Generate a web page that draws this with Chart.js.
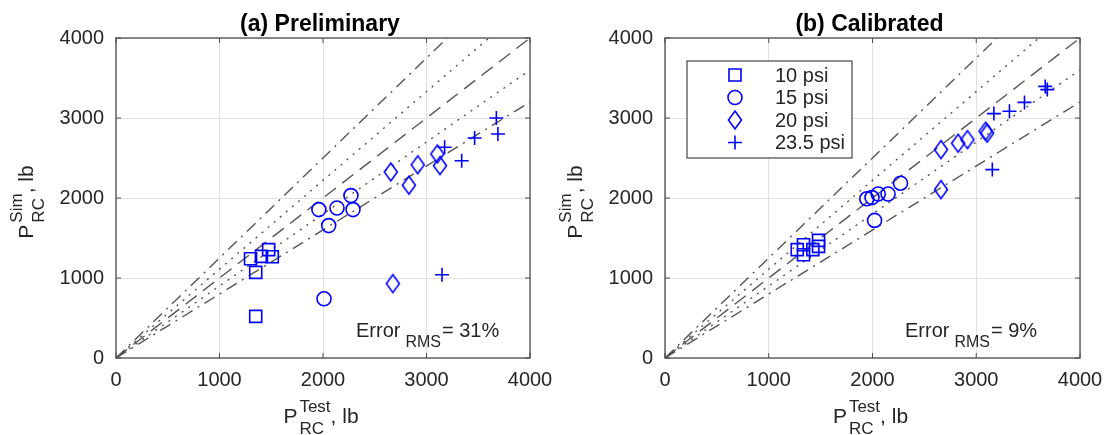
<!DOCTYPE html>
<html>
<head>
<meta charset="utf-8">
<script src="https://cdn.jsdelivr.net/npm/chart.js@4.4.1/dist/chart.umd.min.js"></script>
<style>
  html, body { margin: 0; padding: 0; background: #fff; }
  .wrap { position: relative; width: 1108px; height: 435px; }
  .panel { position: absolute; top: 0; width: 554px; height: 435px; }
</style>
</head>
<body>
<div class="wrap">
  <div class="panel" style="left:0"><canvas id="prelim" width="554" height="435"></canvas></div>
  <div class="panel" style="left:554px"><canvas id="calib" width="554" height="435"></canvas></div>
</div>
<script>
// groups and axis ticks
const groups = ['10 psi', '15 psi', '20 psi', '23.5 psi'];
const axisTicks = [0, 1000, 2000, 3000, 4000];
// sim/test ratio guide lines
const ratioLines = [1.25, 1.11, 1, 0.9, 0.8];

// (a) Preliminary: test load (x) vs simulated load (y), lb
const prelimTest10 = [1300, 1405, 1475, 1510, 1350, 1350];
const prelimSim10  = [1240, 1270, 1355, 1265, 1070, 520];
const prelimTest15 = [1960, 2135, 2270, 2290, 2055, 2010];
const prelimSim15  = [1855, 1875, 2030, 1855, 1655, 740];
const prelimTest20 = [2655, 2915, 2830, 3105, 3130, 2675];
const prelimSim20  = [2325, 2415, 2160, 2550, 2405, 930];
const prelimTest235 = [3675, 3690, 3465, 3340, 3175, 3150];
const prelimSim235  = [3000, 2800, 2750, 2465, 2635, 1040];

// (b) Calibrated
const calibTest10 = [1275, 1335, 1335, 1425, 1480, 1480];
const calibSim10  = [1355, 1415, 1290, 1355, 1470, 1395];
const calibTest15 = [1945, 2055, 2150, 2270, 2020, 1995];
const calibSim15  = [1990, 2050, 2050, 2185, 1720, 2005];
const calibTest20 = [2660, 2825, 2915, 3090, 3105, 2660];
const calibSim20  = [2605, 2685, 2730, 2835, 2810, 2105];
const calibTest235 = [3665, 3685, 3465, 3320, 3170, 3155];
const calibSim235  = [3395, 3355, 3195, 3085, 3055, 2355];

const BLUE = '#0000ff';
const TXT = '#262626';
const FONT = 'Liberation Sans, Arial, Helvetica, sans-serif';

// tall diamond like matlab's marker
function diamondImg() {
  const c = document.createElement('canvas');
  c.width = 18; c.height = 22;
  const g = c.getContext('2d');
  g.strokeStyle = BLUE; g.lineWidth = 1.6;
  g.beginPath();
  g.moveTo(9, 2); g.lineTo(15.5, 11); g.lineTo(9, 20); g.lineTo(2.5, 11); g.closePath();
  g.stroke();
  return c;
}
const diamond = diamondImg();
const markerStyles = ['rect', 'circle', diamond, 'cross'];
const markerRadius = [8.5, 7, 8, 7];

function pts(xs, ys) { return xs.map((v, i) => ({ x: v, y: ys[i] })); }

function refLine(r) {
  let dash = [14, 8];
  if (r === 1.11 || r === 0.9) dash = [2, 6];
  if (r === 1.25 || r === 0.8) dash = [12, 6, 2, 6];
  return {
    type: 'line', data: [{ x: 0, y: 0 }, { x: 4000, y: 4000 * r }],
    borderColor: '#555', borderWidth: 1.4, borderDash: dash,
    pointRadius: 0, showLine: true, fill: false, order: 2
  };
}

// P_RC^sup , lb with sub/superscript
function drawPLabel(ctx, sup, center) {
  const big = '21px ' + FONT, small = '17px ' + FONT;
  ctx.font = big; const wP = ctx.measureText('P').width; const wT = ctx.measureText(', lb').width;
  ctx.font = small; const wS = Math.max(ctx.measureText('RC').width, ctx.measureText(sup).width);
  const total = wP + 2 + wS + wT;
  let x = center - total / 2;
  ctx.fillStyle = TXT; ctx.textAlign = 'left'; ctx.textBaseline = 'alphabetic';
  ctx.font = big; ctx.fillText('P', x, 0); x += wP + 2;
  ctx.font = small; ctx.fillText(sup, x, -11); ctx.fillText('RC', x, 11); x += wS;
  ctx.font = big; ctx.fillText(', lb', x, 0);
}

const decor = {
  id: 'decor',
  afterDraw(chart, args, o) {
    const { ctx, chartArea: a, scales: { x, y } } = chart;
    ctx.save();
    // frame and inward ticks
    ctx.strokeStyle = '#4d4d4d'; ctx.lineWidth = 1.3;
    ctx.strokeRect(a.left, a.top, a.right - a.left, a.bottom - a.top);
    ctx.lineWidth = 1; ctx.beginPath();
    axisTicks.forEach(v => {
      const px = x.getPixelForValue(v), py = y.getPixelForValue(v);
      ctx.moveTo(px, a.bottom); ctx.lineTo(px, a.bottom - 5);
      ctx.moveTo(px, a.top); ctx.lineTo(px, a.top + 5);
      ctx.moveTo(a.left, py); ctx.lineTo(a.left + 5, py);
      ctx.moveTo(a.right, py); ctx.lineTo(a.right - 5, py);
    });
    ctx.stroke();

    const cx = (a.left + a.right) / 2;
    // title
    ctx.fillStyle = '#000'; ctx.font = 'bold 23px ' + FONT;
    ctx.textAlign = 'center'; ctx.textBaseline = 'alphabetic';
    ctx.fillText(o.title, cx - 3, 31);

    // axis titles
    ctx.save(); ctx.translate(0, 423); drawPLabel(ctx, 'Test', cx - 2); ctx.restore();
    ctx.save(); ctx.translate(a.left - 83, 0); ctx.rotate(-Math.PI / 2);
    drawPLabel(ctx, 'Sim', -(a.top + a.bottom) / 2 - 4); ctx.restore();

    // error annotation
    let ex = a.left + 240;
    ctx.fillStyle = TXT; ctx.textAlign = 'left';
    ctx.font = '20px ' + FONT; ctx.fillText('Error', ex, 337);
    ex += ctx.measureText('Error').width + 5;
    ctx.font = '16px ' + FONT; ctx.fillText('RMS', ex, 347);
    ex += ctx.measureText('RMS').width + 1;
    ctx.font = '20px ' + FONT; ctx.fillText('= ' + o.error, ex, 337);

    // legend box
    if (o.legend) {
      const lx = a.left + 22, ly = 61, lw = 165, lh = 97;
      ctx.fillStyle = '#fff'; ctx.fillRect(lx, ly, lw, lh);
      ctx.strokeStyle = '#444'; ctx.lineWidth = 1.2; ctx.strokeRect(lx, ly, lw, lh);
      groups.forEach((g, i) => {
        const my = ly + 14 + i * 22.5, mx = lx + 48;
        ctx.strokeStyle = BLUE; ctx.lineWidth = 1.6; ctx.beginPath();
        if (i === 0) ctx.rect(mx - 6, my - 6, 12, 12);
        if (i === 1) ctx.arc(mx, my, 7, 0, Math.PI * 2);
        if (i === 3) { ctx.moveTo(mx - 7, my); ctx.lineTo(mx + 7, my); ctx.moveTo(mx, my - 7); ctx.lineTo(mx, my + 7); }
        ctx.stroke();
        if (i === 2) ctx.drawImage(diamond, mx - 9, my - 11);
        ctx.fillStyle = TXT; ctx.font = '20px ' + FONT; ctx.textBaseline = 'middle';
        ctx.fillText(g, lx + 88, my + 1);
      });
    }
    ctx.restore();
  }
};

function makeChart(id, title, error, series, legend, yWidth, padRight) {
  const sets = ratioLines.map(refLine);
  series.forEach((s, i) => sets.push({
    label: groups[i], data: pts(s[0], s[1]),
    pointStyle: markerStyles[i], pointRadius: markerRadius[i],
    borderColor: BLUE, backgroundColor: 'rgba(0,0,0,0)', borderWidth: 1.6,
    showLine: false, order: 1
  }));
  const tickFont = { family: FONT, size: 20 };
  new Chart(document.getElementById(id), {
    type: 'scatter',
    data: { datasets: sets },
    options: {
      responsive: false, animation: false,
      layout: { padding: { top: 38, right: padRight, bottom: 0, left: 0 } },
      plugins: { legend: { display: false }, tooltip: { enabled: false },
                 decor: { title, error, legend } },
      scales: {
        x: {
          type: 'linear', min: 0, max: 4000,
          afterBuildTicks: s => { s.ticks = axisTicks.map(v => ({ value: v })); },
          afterFit: s => { s.height = 77; s.paddingLeft = 0; s.paddingRight = 0; },
          ticks: { font: tickFont, color: TXT, padding: 10, maxRotation: 0, callback: v => String(v) },
          grid: { color: '#e2e2e2', drawTicks: false }, border: { display: false }
        },
        y: {
          type: 'linear', min: 0, max: 4000,
          afterBuildTicks: s => { s.ticks = axisTicks.map(v => ({ value: v })); },
          afterFit: s => { s.width = yWidth; s.paddingTop = 0; s.paddingBottom = 0; },
          ticks: { font: tickFont, color: TXT, padding: 12, callback: v => String(v) },
          grid: { color: '#e2e2e2', drawTicks: false }, border: { display: false }
        }
      }
    },
    plugins: [decor]
  });
}

makeChart('prelim', '(a) Preliminary', '31%', [
  [prelimTest10, prelimSim10], [prelimTest15, prelimSim15],
  [prelimTest20, prelimSim20], [prelimTest235, prelimSim235]
], false, 116, 24);

makeChart('calib', '(b) Calibrated', '9%', [
  [calibTest10, calibSim10], [calibTest15, calibSim15],
  [calibTest20, calibSim20], [calibTest235, calibSim235]
], true, 111, 28);
</script>
</body>
</html>
